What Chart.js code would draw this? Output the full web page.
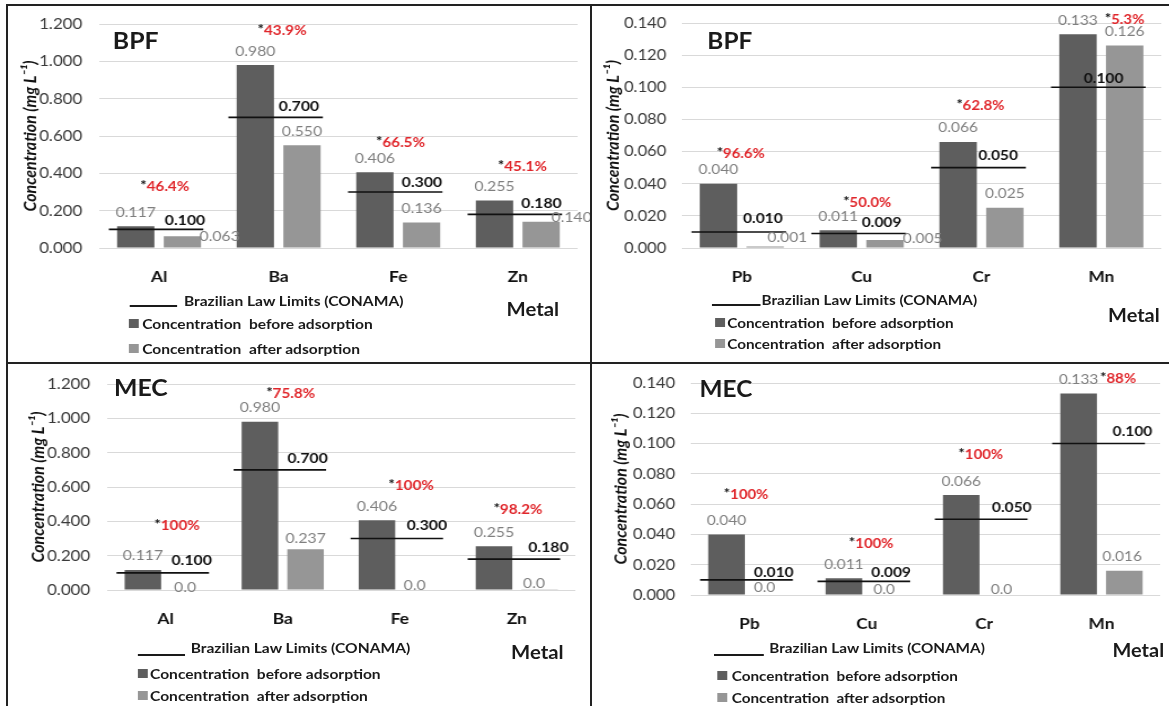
<!DOCTYPE html>
<html>
<head>
<meta charset="utf-8">
<script src="https://cdn.jsdelivr.net/npm/chart.js@4.4.1/dist/chart.umd.min.js"></script>
<style>
html, body { margin: 0; padding: 0; background: #fff; }
#page { position: relative; width: 1169px; height: 706px; overflow: hidden; font-family: Lato, "Open Sans", sans-serif; }
.panel { position: absolute; transform-origin: 0 0; }
.panel canvas { position: absolute; left: 0; top: 0; }
.txt { position: absolute; white-space: nowrap; line-height: 1; transform: translateY(-50%); color: #1a1a1a; }
.bar { position: absolute; background: #1a1a1a; }
</style>
</head>
<body>
<div id="page"></div>
<script>
// ========== 数据 ==========
const metals1 = ['Al', 'Ba', 'Fe', 'Zn'];
const metals2 = ['Pb', 'Cu', 'Cr', 'Mn'];

const before1 = [0.117, 0.980, 0.406, 0.255];
const limits1 = [0.100, 0.700, 0.300, 0.180];
const bpfAfter1 = [0.063, 0.550, 0.136, 0.140];
const mecAfter1 = [0, 0.237, 0, 0.0046];
const bpfRemoval1 = ['46.4%', '43.9%', '66.5%', '45.1%'];
const mecRemoval1 = ['100%', '75.8%', '100%', '98.2%'];

const before2 = [0.040, 0.011, 0.066, 0.133];
const limits2 = [0.010, 0.009, 0.050, 0.100];
const bpfAfter2 = [0.001, 0.005, 0.025, 0.126];
const mecAfter2 = [0, 0, 0, 0.016];
const bpfRemoval2 = ['96.6%', '50.0%', '62.8%', '5.3%'];
const mecRemoval2 = ['100%', '100%', '100%', '88%'];

const yTicks1 = [0, 0.2, 0.4, 0.6, 0.8, 1.0, 1.2];
const yTicks2 = [0, 0.02, 0.04, 0.06, 0.08, 0.10, 0.12, 0.14];

const DARK = '#5e5e5e';
const LIGHT = '#969696';
const RED = '#e0262b';

// 原图横向拉伸：每个面板按 523 宽绘制，再横向放大到实际宽度
const BASE_W = 523;

// ========== 面板布局（面板内坐标，未拉伸） ==========
const panels = [
    {
        left: 0, top: 0, w: 590, h: 360, title: 'BPF', mec: false,
        labels: metals1, before: before1, after: bpfAfter1, limits: limits1, removal: bpfRemoval1, ticks: yTicks1,
        plot: { l: 88, r: 512, t: 23, b: 248 }, tickPad: 15, yTitleX: 27, xPad: 12,
        afterShift: [[33, 14], [0, 0], [0, 0], [27, 10]],
        pctShift: [[5, -40], [3, -34], [2, -30], [4, -34]],
        limShift: [[23, -9], [18, -11], [21, -10], [21, -11]],
        titleAt: [100, 40], metalAt: [449, 309],
        legend: { line: [115, 157, 306], text: [163, 300], sq: 114, rowX: 126, rows: [323, 348] }
    },
    {
        left: 590, top: 0, w: 579, h: 360, title: 'BPF', mec: false,
        labels: metals2, before: before2, after: bpfAfter2, limits: limits2, removal: bpfRemoval2, ticks: yTicks2,
        plot: { l: 83, r: 516, t: 23, b: 248 }, tickPad: 14, yTitleX: 21, xPad: 12,
        afterShift: [[20, 5], [34, 13], [0, 0], [0, 0]],
        pctShift: [[-1, -30], [5, -28], [-1, -36], [21, -15]],
        limShift: [[19, -13], [18, -11], [15, -12], [2, -9]],
        titleAt: [106, 40], metalAt: [468, 315],
        legend: { line: [110, 154, 305], text: [155, 299], sq: 113, rowX: 124, rows: [322, 343] }
    },
    {
        left: 0, top: 360, w: 590, h: 346, title: 'MEC', mec: true,
        labels: metals1, before: before1, after: mecAfter1, limits: limits1, removal: mecRemoval1, ticks: yTicks1,
        plot: { l: 95, r: 510, t: 19, b: 230 }, tickPad: 15, yTitleX: 34, xPad: 12,
        afterShift: [[-3, 11], [0, 3], [-7, 9], [-5, 8]],
        pctShift: [[10, -44], [7, -28], [10, -35], [1, -37]],
        limShift: [[23, -12], [22, -11], [24, -13], [28, -12]],
        titleAt: [101, 27], metalAt: [453, 292],
        legend: { line: [122, 164, 295], text: [169, 287], sq: 122, rowX: 133, rows: [313, 335] }
    },
    {
        left: 590, top: 360, w: 579, h: 346, title: 'MEC', mec: true,
        labels: metals2, before: before2, after: mecAfter2, limits: limits2, removal: mecRemoval2, ticks: yTicks2,
        plot: { l: 91, r: 515, t: 19, b: 235 }, tickPad: 14, yTitleX: 28, xPad: 12,
        afterShift: [[-7, 6], [-5, 8], [-5, 8], [-2, 0]],
        pctShift: [[-3, -40], [4, -35], [-3, -40], [15, -15]],
        limShift: [[22, -7], [22, -9], [25, -12], [28, -12]],
        titleAt: [99, 28], metalAt: [472, 290],
        legend: { line: [112, 157, 295], text: [162, 287], sq: 115, rowX: 128, rows: [315, 337] }
    }
];

const page = document.getElementById('page');

function addText(parent, txt, x, y, css) {
    const el = document.createElement('div');
    el.className = 'txt';
    el.textContent = txt;
    el.style.left = x + 'px';
    el.style.top = y + 'px';
    Object.assign(el.style, css);
    parent.appendChild(el);
}

function addBox(parent, x, y, w, h, color) {
    const el = document.createElement('div');
    el.className = 'bar';
    Object.assign(el.style, { left: x + 'px', top: y + 'px', width: w + 'px', height: h + 'px' });
    if (color) el.style.background = color;
    parent.appendChild(el);
}

function afterText(p, v) {
    if (p.mec && v < 0.01) return '0.0';
    return v.toFixed(3);
}

// ========== 标注插件：限值线、数值、去除率 ==========
function makeAnnot(p) {
    return {
        id: 'annot',
        afterDatasetsDraw(chart) {
            const ctx = chart.ctx;
            const xs = chart.scales.x, ys = chart.scales.y;
            const m0 = chart.getDatasetMeta(0), m1 = chart.getDatasetMeta(1);
            const catW = xs.getPixelForValue(1) - xs.getPixelForValue(0);
            ctx.save();
            ctx.textAlign = 'center';
            ctx.textBaseline = 'middle';
            p.labels.forEach((lab, i) => {
                const cx = xs.getPixelForValue(i);
                const ly = ys.getPixelForValue(p.limits[i]);

                // 限值线
                ctx.strokeStyle = '#111';
                ctx.lineWidth = 1.6;
                ctx.beginPath();
                ctx.moveTo(cx - 0.42 * catW, ly);
                ctx.lineTo(cx + 0.37 * catW, ly);
                ctx.stroke();

                ctx.font = 'bold 14px Lato';
                ctx.fillStyle = '#111';
                ctx.fillText(p.limits[i].toFixed(3), cx + p.limShift[i][0], ly + p.limShift[i][1]);

                // 柱顶数值
                const b0 = m0.data[i], b1 = m1.data[i];
                ctx.font = '14px Lato';
                ctx.fillStyle = '#7f7f7f';
                ctx.fillText(p.before[i].toFixed(3), b0.x, b0.y - 14);
                ctx.fillText(afterText(p, p.after[i]), b1.x + p.afterShift[i][0], b1.y - 14 + p.afterShift[i][1]);

                // 去除率
                ctx.font = 'bold 13.5px Lato';
                const star = '*', pct = p.removal[i];
                const ws = ctx.measureText(star).width, wp = ctx.measureText(pct).width;
                const px = cx + p.pctShift[i][0] - (ws + wp) / 2;
                const py = b0.y + p.pctShift[i][1];
                ctx.textAlign = 'left';
                ctx.fillStyle = '#111';
                ctx.fillText(star, px, py - 1);
                ctx.fillStyle = RED;
                ctx.fillText(pct, px + ws, py);
                ctx.textAlign = 'center';
            });
            ctx.restore();
        }
    };
}

// ========== 绘制面板 ==========
panels.forEach(p => {
    const box = document.createElement('div');
    box.className = 'panel';
    Object.assign(box.style, {
        left: p.left + 'px', top: p.top + 'px',
        width: BASE_W + 'px', height: p.h + 'px',
        transform: `scaleX(${p.w / BASE_W})`
    });
    page.appendChild(box);

    const cv = document.createElement('canvas');
    cv.width = BASE_W;
    cv.height = p.h;
    box.appendChild(cv);

    new Chart(cv.getContext('2d'), {
        type: 'bar',
        data: {
            labels: p.labels,
            datasets: [
                { label: 'Concentration  before adsorption', data: p.before, backgroundColor: DARK, categoryPercentage: 0.78, barPercentage: 0.8 },
                { label: 'Concentration  after adsorption', data: p.after, backgroundColor: LIGHT, categoryPercentage: 0.78, barPercentage: 0.8 }
            ]
        },
        options: {
            responsive: false,
            animation: false,
            devicePixelRatio: 1,
            layout: { padding: { left: 0, top: p.plot.t, right: BASE_W - p.plot.r, bottom: 0 } },
            scales: {
                x: {
                    grid: { display: false },
                    border: { display: false },
                    ticks: { padding: p.xPad, color: '#111', font: { family: 'Lato', size: 15.5, weight: 'bold' } },
                    afterFit: s => { s.height = p.h - p.plot.b; }
                },
                y: {
                    min: 0,
                    max: p.ticks[p.ticks.length - 1],
                    afterBuildTicks: s => { s.ticks = p.ticks.map(v => ({ value: v })); },
                    grid: { color: '#d9d9d9', drawTicks: false },
                    border: { display: false },
                    ticks: {
                        padding: p.tickPad,
                        color: '#3a3a3a',
                        font: { family: 'Lato', size: 15 },
                        callback: v => Number(v).toFixed(3)
                    },
                    title: {
                        display: true,
                        text: 'Concentration (mg L\u207B\u00B9)',
                        color: '#111',
                        font: { family: 'Lato', size: 16, style: 'italic', weight: 'bold' },
                        padding: { top: p.yTitleX - 9.6, bottom: 0 }
                    },
                    afterFit: s => { s.width = p.plot.l; }
                }
            },
            plugins: { legend: { display: false }, tooltip: { enabled: false } }
        },
        plugins: [makeAnnot(p)]
    });

    // 标题与图例
    addText(box, p.title, p.titleAt[0], p.titleAt[1], { font: 'bold 22px Lato' });
    addText(box, 'Metal', p.metalAt[0], p.metalAt[1], { font: 'bold 18px Lato' });
    const lg = p.legend;
    addBox(box, lg.line[0], lg.line[2] - 1, lg.line[1] - lg.line[0], 2);
    addText(box, 'Brazilian Law Limits (CONAMA)', lg.text[0], lg.text[1], { font: 'bold 13.8px Lato' });
    addBox(box, lg.sq, lg.rows[0] - 4, 9, 9, DARK);
    addText(box, 'Concentration  before adsorption', lg.rowX, lg.rows[0], { font: 'bold 13.8px Lato', whiteSpace: 'pre' });
    addBox(box, lg.sq, lg.rows[1] - 4, 9, 9, LIGHT);
    addText(box, 'Concentration  after adsorption', lg.rowX, lg.rows[1], { font: 'bold 13.8px Lato', whiteSpace: 'pre' });
});

// ========== 外框 ==========
addBox(page, 7, 4, 1162, 2, '#222');
addBox(page, 6, 4, 2, 702, '#222');
addBox(page, 590, 4, 2, 702, '#222');
addBox(page, 7, 362, 1162, 2, '#222');
</script>
</body>
</html>
